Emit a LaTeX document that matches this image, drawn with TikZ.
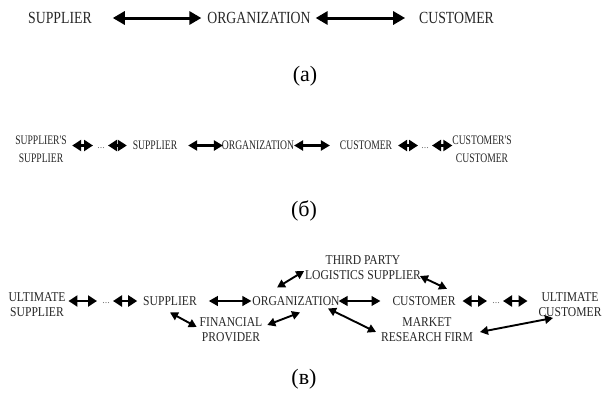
\documentclass[tikz,border=0pt]{standalone}
\usepackage{fontspec}
\setmainfont{Liberation Serif}
\newfontfamily\rowafont[FakeStretch=0.81]{Liberation Serif}
\newfontfamily\rowbfont[FakeStretch=0.74]{Liberation Serif}
\newfontfamily\rowcfont[FakeStretch=0.86]{Liberation Serif}
\usetikzlibrary{arrows.meta}
\begin{document}
\begin{tikzpicture}[x=1pt,y=-1pt,
  ta/.style={inner sep=0pt, outer sep=0pt, font=\rowafont\fontsize{17}{19}\selectfont, text height=11.3pt, text depth=0pt, text=black!85},
  tb/.style={inner sep=0pt, outer sep=0pt, font=\rowbfont\fontsize{13}{18}\selectfont, text depth=0pt, align=center, text=black!85},
  tbone/.style={tb, text height=8.6pt},
  tc/.style={inner sep=0pt, outer sep=0pt, font=\rowcfont\fontsize{13.5}{15}\selectfont, text depth=0pt, align=center, text=black!85},
  tcone/.style={tc, text height=8.9pt},
  dotsb/.style={inner sep=0pt, outer sep=0pt, minimum width=12pt, font=\fontsize{10}{10}\selectfont, text height=5pt, text depth=0pt, text=black!55},
  lab/.style={inner sep=0pt, font=\fontsize{22}{24}\selectfont},
  bigarr/.style={line width=3pt, {Triangle[length=12pt,width=13pt]}-{Triangle[length=12pt,width=13pt]}},
  midarr/.style={line width=2.4pt, {Triangle[length=9pt,width=10pt]}-{Triangle[length=9pt,width=10pt]}},
  smallarr/.style={line width=2.2pt, {Triangle[length=9pt,width=11pt]}-{Triangle[length=9pt,width=11pt]}},
  carr/.style={line width=2.2pt, {Triangle[length=9pt,width=9.5pt]}-{Triangle[length=9pt,width=9.5pt]}},
  darr/.style={line width=1.9pt, {Triangle[length=8pt,width=8.5pt]}-{Triangle[length=8pt,width=8.5pt]}}
]
\useasboundingbox (0,0) rectangle (602,399);

% ---------- row (a)
\node[ta] (s1) at (60,18) {SUPPLIER};
\node[ta] (o1) at (259,18) {ORGANIZATION};
\node[ta] (c1) at (456.5,18) {CUSTOMER};
\draw[bigarr, shorten <=21pt, shorten >=6pt] (s1) -- (o1);
\draw[bigarr, shorten <=5pt, shorten >=14pt] (o1) -- (c1);
\node[lab] (la) at (305,76) {(а)};

% ---------- row (b)
\node[tb] (ss) at (41,149) {SUPPLIER'S\\SUPPLIER};
\node[dotsb] (d1) at (101,145.5) {...};
\node[tbone] (s2) at (155,145.5) {SUPPLIER};
\node[tbone] (o2) at (258,145.5) {ORGANIZATION};
\node[tbone] (c2) at (366,145.5) {CUSTOMER};
\node[dotsb] (d2) at (425,145.5) {...};
\node[tb] (cc) at (482,149) {CUSTOMER'S\\CUSTOMER};
\draw[smallarr, shorten <=5.5pt, shorten >=2pt] (ss.east |- d1.west) -- (d1.west);
\draw[smallarr, shorten <=1pt, shorten >=6pt] (d1.east) -- (s2.west);
\draw[midarr, shorten <=11pt, shorten >=-1pt] (s2) -- (o2);
\draw[midarr, shorten <=0pt, shorten >=10pt] (o2) -- (c2);
\draw[smallarr, shorten <=6pt, shorten >=1pt] (c2.east) -- (d2.west);
\draw[smallarr, shorten <=1pt, shorten >=0pt] (d2.east) -- (cc.west |- d2.east);
\node[lab] (lb) at (304,211) {(б)};

% ---------- row (c)
\node[tc] (us) at (37,305) {ULTIMATE\\SUPPLIER};
\node[dotsb] (d3) at (106,301) {...};
\node[tcone] (s3) at (170,301) {SUPPLIER};
\node[tcone] (o3) at (296,301) {ORGANIZATION};
\node[tcone] (c3) at (424,301) {CUSTOMER};
\node[dotsb] (d4) at (496,301) {...};
\node[tc] (uc) at (570,305) {ULTIMATE\\CUSTOMER};
\node[tc] (tpl) at (363,267.5) {THIRD PARTY\\LOGISTICS SUPPLIER};
\node[tc] (fp) at (231,329.5) {FINANCIAL\\PROVIDER};
\node[tc] (mrf) at (427,329.5) {MARKET\\RESEARCH FIRM};

\draw[smallarr, shorten <=3pt, shorten >=3pt] (us.east |- d3.west) -- (d3.west);
\draw[smallarr, shorten <=1pt, shorten >=6pt] (d3.east) -- (s3.west);
\draw[carr, shorten <=12pt, shorten >=1pt] (s3) -- (o3);
\draw[carr, shorten <=-1pt, shorten >=12pt] (o3) -- (c3);
\draw[smallarr, shorten <=7pt, shorten >=3pt] (c3.east) -- (d4.west);
\draw[smallarr, shorten <=1pt, shorten >=11pt] (d4.east) -- (uc.west |- d4.east);

\draw[darr] ([shift={(0,7)}]s3.south) -- ([shift={(-3,-2.5)}]fp.west);
\draw[darr] ([shift={(5,-4.5)}]fp.east) -- ([shift={(4,7)}]o3.south);
\draw[darr] ([shift={(-19,-9)}]o3.north) -- ([shift={(-1,3.5)}]tpl.west);
\draw[darr] ([shift={(-1,8.5)}]tpl.east) -- ([shift={(23,-7.7)}]c3.north);
\draw[darr] ([shift={(32,3)}]o3.south) -- ([shift={(-5,2.5)}]mrf.west);
\draw[darr] ([shift={(7,2.5)}]mrf.east) -- ([shift={(-17,1)}]uc.south);
\node[lab] (lc) at (304,379) {(в)};
\end{tikzpicture}
\end{document}
